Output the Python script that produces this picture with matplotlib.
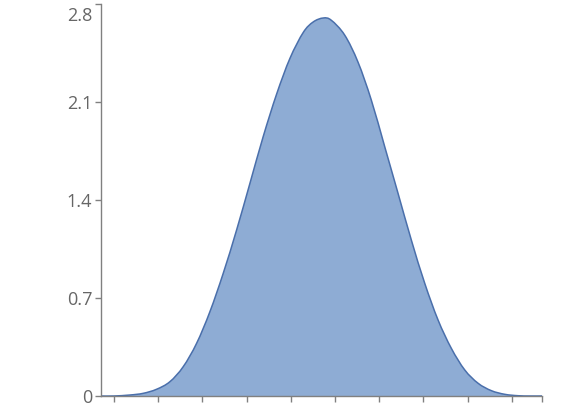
import matplotlib
matplotlib.use("Agg")
import matplotlib.pyplot as plt
import matplotlib.transforms as mtransforms
from matplotlib.path import Path
from matplotlib.patches import PathPatch

# density curve (x in tick steps, y in density units)
x_vals = [-0.29, 0.0, 0.362, 0.663, 0.966, 1.267, 1.568, 1.871, 2.172, 2.473,
          2.776, 3.077, 3.378, 3.681, 3.982, 4.283, 4.509, 4.735, 4.916,
          5.219, 5.520, 5.821, 6.124, 6.425, 6.726, 7.029, 7.330, 7.631,
          7.934, 8.235, 8.536, 8.839, 9.140, 9.40, 9.68]
y_vals = [0.0, 0.0, 0.007, 0.019, 0.048, 0.102, 0.209, 0.376, 0.602, 0.876,
          1.186, 1.519, 1.854, 2.157, 2.412, 2.597, 2.672, 2.700, 2.684,
          2.578, 2.385, 2.114, 1.781, 1.448, 1.114, 0.805, 0.543, 0.340,
          0.186, 0.091, 0.038, 0.012, 0.002, 0.0, 0.0]

x_ticks = [0, 1, 2, 3, 4, 5, 6, 7, 8, 9, 9.68]
y_ticks = [0, 0.7, 1.4, 2.1, 2.8]
y_labels = ["0", "0.7", "1.4", "2.1", "2.8"]


def smooth_path(xs, ys, close=False):
    # catmull-rom through the points, drawn as cubic bezier segments
    pts = list(zip(xs, ys))
    verts = [pts[0]]
    codes = [Path.MOVETO]
    n = len(pts)
    for i in range(n - 1):
        p0 = pts[max(i - 1, 0)]
        p1 = pts[i]
        p2 = pts[i + 1]
        p3 = pts[min(i + 2, n - 1)]
        c1 = (p1[0] + (p2[0] - p0[0]) / 6, p1[1] + (p2[1] - p0[1]) / 6)
        c2 = (p2[0] - (p3[0] - p1[0]) / 6, p2[1] - (p3[1] - p1[1]) / 6)
        verts += [c1, c2, p2]
        codes += [Path.CURVE4] * 3
    if close:
        verts += [(xs[-1], 0), (xs[0], 0), (xs[0], 0)]
        codes += [Path.LINETO, Path.LINETO, Path.CLOSEPOLY]
    return Path(verts, codes)


plt.rcParams['font.family'] = ['Open Sans', 'DejaVu Sans']

fig = plt.figure(figsize=(5.64, 4.04), dpi=100)
ax = fig.add_axes([101 / 564, 8 / 404, 441 / 564, 392 / 404])

ax.add_patch(PathPatch(smooth_path(x_vals, y_vals, close=True),
                       facecolor='#8eacd4', edgecolor='none'))
ax.add_patch(PathPatch(smooth_path(x_vals, y_vals),
                       facecolor='none', edgecolor='#4a6fab', linewidth=1.1))

ax.set_xlim(-0.29, 9.68)
ax.set_ylim(0, 2.8)

for side in ['top', 'right']:
    ax.spines[side].set_visible(False)
for side in ['left', 'bottom']:
    ax.spines[side].set_color('#808080')
    ax.spines[side].set_linewidth(1.0)

ax.set_xticks(x_ticks)
ax.set_xticklabels([])
ax.set_yticks(y_ticks)
ax.set_yticklabels(y_labels)
ax.tick_params(axis='both', color='#808080', length=4.3, width=1.0,
               labelcolor='#666666', labelsize=13, pad=2)

# top label sits a bit lower than its tick
top_label = ax.get_yticklabels()[-1]
offset = mtransforms.ScaledTranslation(0, -10 / 100, fig.dpi_scale_trans)
top_label.set_transform(top_label.get_transform() + offset)

fig.savefig("out.png", dpi=100)
